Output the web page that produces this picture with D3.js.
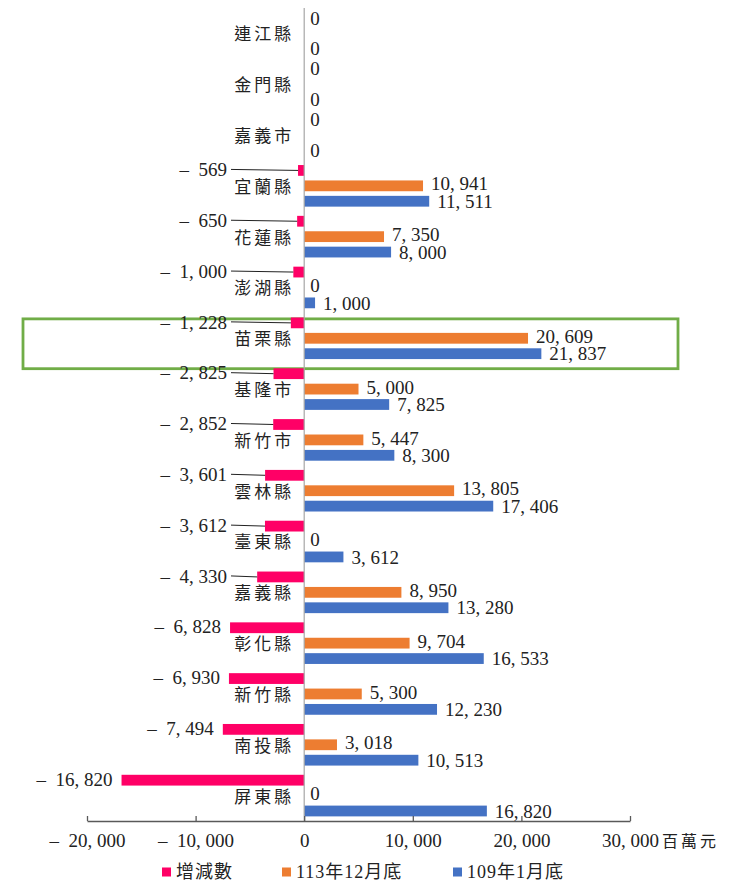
<!DOCTYPE html>
<html>
<head>
<meta charset="utf-8">
<script src="https://cdn.jsdelivr.net/npm/d3@7"></script>
<style>
  body { margin: 0; background: #fff; }
  text { font-family: 'Liberation Serif', 'Noto Sans CJK TC', serif; }
</style>
</head>
<body>
<svg id="chart"></svg>
<script>
// counties, top to bottom
var categories = ["連江縣", "金門縣", "嘉義市", "宜蘭縣", "花蓮縣", "澎湖縣", "苗栗縣", "基隆市",
  "新竹市", "雲林縣", "臺東縣", "嘉義縣", "彰化縣", "新竹縣", "南投縣", "屏東縣"];
var changeVals = [0, 0, 0, -569, -650, -1000, -1228, -2825, -2852, -3601, -3612, -4330, -6828, -6930, -7494, -16820];
var dec113 = [0, 0, 0, 10941, 7350, 0, 20609, 5000, 5447, 13805, 0, 8950, 9704, 5300, 3018, 0];
var jan109 = [0, 0, 0, 11511, 8000, 1000, 21837, 7825, 8300, 17406, 3612, 13280, 16533, 12230, 10513, 16820];
var seriesNames = ["增減數", "113年12月底", "109年1月底"];
var xTicks = [-20000, -10000, 0, 10000, 20000, 30000];
var unitLabel = "百萬元";
var highlight = "苗栗縣";

var colors = ["#FF0066", "#ED7D31", "#4472C4"];
var W = 737, H = 882;

var svg = d3.select('#chart').attr('width', W).attr('height', H);

var x = d3.scaleLinear().domain([-20000, 30000]).range([87, 630]);
var y = d3.scaleBand().domain(categories).range([8, 821]);
var sub = d3.scaleBand().domain([0, 1, 2]).range([4.6, 46.2]).paddingInner(0.3);

var fmt = function (v) {
  var s = d3.format(",")(Math.abs(v)).replace(/,/g, ", ");
  return v < 0 ? "\u2013\u2002" + s : s;
};

var rows = categories.map(function (c, i) {
  return { cat: c, vals: [changeVals[i], dec113[i], jan109[i]] };
});

// highlight box
svg.append('rect')
  .attr('x', 23)
  .attr('y', y(highlight) + 6)
  .attr('width', 655)
  .attr('height', y.bandwidth() - 1)
  .attr('fill', 'none')
  .attr('stroke', '#70AD47')
  .attr('stroke-width', 2.8);

// bars
var g = svg.selectAll('g.row')
  .data(rows)
  .enter()
  .append('g')
  .attr('class', 'row')
  .attr('transform', function (d) { return 'translate(0,' + y(d.cat) + ')'; });

g.selectAll('rect')
  .data(function (d) { return d.vals.map(function (v, s) { return { v: v, s: s }; }); })
  .enter()
  .append('rect')
  .attr('x', function (d) { return x(Math.min(0, d.v)); })
  .attr('y', function (d) { return sub(d.s); })
  .attr('width', function (d) { return Math.abs(x(d.v) - x(0)); })
  .attr('height', sub.bandwidth())
  .attr('fill', function (d) { return colors[d.s]; });

// vertical zero line
svg.append('line')
  .attr('x1', x(0)).attr('x2', x(0))
  .attr('y1', 8).attr('y2', 821)
  .attr('stroke', '#A6A6A6')
  .attr('stroke-width', 1.2);

// category labels
g.append('text')
  .attr('x', x(0) - 10)
  .attr('y', sub(1) + sub.bandwidth() / 2 + 1)
  .attr('dy', '0.35em')
  .attr('text-anchor', 'end')
  .attr('font-family', "'Noto Sans CJK TC', sans-serif")
  .attr('font-size', '17px')
  .attr('letter-spacing', '3px')
  .attr('fill', '#222')
  .text(function (d) { return d.cat; });

// positive / zero labels for orange and blue, zero labels for pink
g.each(function (d) {
  var row = d3.select(this);
  d.vals.forEach(function (v, s) {
    var cy = sub(s) + sub.bandwidth() / 2;
    if (s === 1 && d.vals[0] === 0) return; // hidden in the source
    if (v >= 0) {
      row.append('text')
        .attr('x', x(v) + (v === 0 ? 6 : 8))
        .attr('y', cy + (s === 1 ? -2 : 0))
        .attr('dy', '0.35em')
        .attr('font-size', '19px')
        .attr('fill', '#222')
        .text(fmt(v));
    } else {
      var barLeft = x(v);
      var lx = Math.min(barLeft - 9, 227);
      var ly = cy - 1;
      row.append('text')
        .attr('x', lx)
        .attr('y', ly)
        .attr('dy', '0.35em')
        .attr('text-anchor', 'end')
        .attr('font-size', '19px')
        .attr('fill', '#222')
        .text(fmt(v));
      if (barLeft - lx > 14) {
        row.append('line')
          .attr('x1', lx + 4).attr('y1', ly)
          .attr('x2', barLeft).attr('y2', cy)
          .attr('stroke', '#222')
          .attr('stroke-width', 1);
      }
    }
  });
});

// bottom axis
var xAxis = d3.axisBottom(x)
  .tickValues(xTicks)
  .tickSizeInner(-5)
  .tickSizeOuter(0)
  .tickPadding(13)
  .tickFormat(fmt);
var ax = svg.append('g')
  .attr('transform', 'translate(0,821)')
  .call(xAxis);
ax.select('.domain').attr('stroke', '#595959').attr('stroke-width', 1.3);
ax.selectAll('.tick line').attr('stroke', '#595959').attr('stroke-width', 1.3);
ax.selectAll('.tick text')
  .attr('font-size', '19px')
  .attr('font-family', "'Liberation Serif', 'Noto Sans CJK TC', serif")
  .attr('fill', '#222');

svg.append('text')
  .attr('x', x(30000) + 32)
  .attr('y', 841)
  .attr('dy', '0.35em')
  .attr('font-family', "'Noto Sans CJK TC', sans-serif")
  .attr('font-size', '16px')
  .attr('letter-spacing', '3px')
  .attr('fill', '#222')
  .text(unitLabel);

// legend
var legendX = [162, 282, 453];
var lg = svg.selectAll('g.legend')
  .data(seriesNames)
  .enter()
  .append('g')
  .attr('class', 'legend')
  .attr('transform', function (d, i) { return 'translate(' + legendX[i] + ',872)'; });
lg.append('rect')
  .attr('x', 0).attr('y', -4.5)
  .attr('width', 9).attr('height', 9)
  .attr('fill', function (d, i) { return colors[i]; });
lg.append('text')
  .attr('x', 14)
  .attr('y', 0)
  .attr('dy', '0.35em')
  .attr('font-size', '18px')
  .attr('letter-spacing', '1px')
  .attr('fill', '#222')
  .text(function (d) { return d; });
</script>
</body>
</html>
